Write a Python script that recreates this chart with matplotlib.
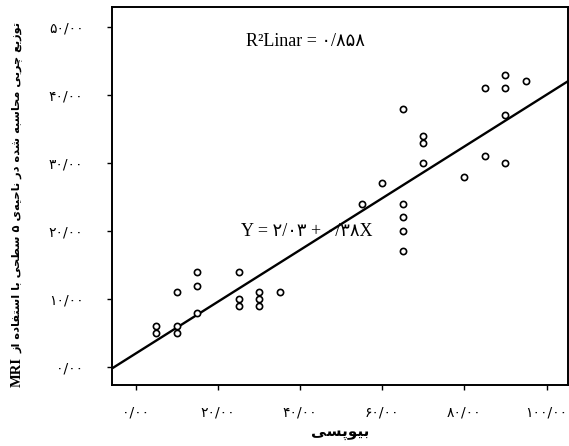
"""Scatter of MRI-estimated fat vs biopsy with a linear fit (Persian labels)."""

import matplotlib
matplotlib.use("Agg")
import matplotlib.pyplot as plt

# ---- data ------------------------------------------------------------------
biopsy = [5, 5, 10, 10, 10, 15, 15, 15, 25, 25, 25, 30, 30, 30, 35,
          55, 60, 65, 65, 65, 65, 65, 70, 70, 70, 80, 85, 85,
          90, 90, 90, 90, 95]
mri_fat = [6, 5, 6, 5, 11, 8, 12, 14, 14, 10, 9, 11, 10, 9, 11,
           24, 27, 38, 24, 22, 20, 17, 34, 33, 30, 28, 31, 41,
           43, 41, 37, 30, 42]

fit_intercept = 2.03
fit_slope = 0.38

x_ticks = [0, 20, 40, 60, 80, 100]
y_ticks = [0, 10, 20, 30, 40, 50]

x_label = "بیوپسی"
y_label = "توزیع چربی محاسبه شده در ناحیه‌ی ۵ سطحی با استفاده از"
y_label_latin = "MRI"
r2_text = "R²Linar = ۰/۸۵۸"
eq_text = "Y = ۲/۰۳ + ۰/۳۸X"

# ---- minimal Arabic shaping (matplotlib does no shaping / bidi) ------------
FORMS = {
    "ا": ("\uFE8D", "\uFE8E", None, None),
    "ب": ("\uFE8F", "\uFE90", "\uFE91", "\uFE92"),
    "پ": ("\uFB56", "\uFB57", "\uFB58", "\uFB59"),
    "ت": ("\uFE95", "\uFE96", "\uFE97", "\uFE98"),
    "چ": ("\uFB7A", "\uFB7B", "\uFB7C", "\uFB7D"),
    "ح": ("\uFEA1", "\uFEA2", "\uFEA3", "\uFEA4"),
    "د": ("\uFEA9", "\uFEAA", None, None),
    "ر": ("\uFEAD", "\uFEAE", None, None),
    "ز": ("\uFEAF", "\uFEB0", None, None),
    "س": ("\uFEB1", "\uFEB2", "\uFEB3", "\uFEB4"),
    "ش": ("\uFEB5", "\uFEB6", "\uFEB7", "\uFEB8"),
    "ط": ("\uFEC1", "\uFEC2", "\uFEC3", "\uFEC4"),
    "ع": ("\uFEC9", "\uFECA", "\uFECB", "\uFECC"),
    "ف": ("\uFED1", "\uFED2", "\uFED3", "\uFED4"),
    "م": ("\uFEE1", "\uFEE2", "\uFEE3", "\uFEE4"),
    "ن": ("\uFEE5", "\uFEE6", "\uFEE7", "\uFEE8"),
    "ه": ("\uFEE9", "\uFEEA", "\uFEEB", "\uFEEC"),
    "و": ("\uFEED", "\uFEEE", None, None),
    "ی": ("\uFEEF", "\uFEF0", "\uFEF3", "\uFEF4"),
}


def _joins_forward(ch):
    return ch in FORMS and FORMS[ch][2] is not None


def shape_rtl(text):
    """Return text in joined presentation forms, in visual (LTR) order."""
    out = []
    for i, ch in enumerate(text):
        if ch == "\u200c":
            continue
        if ch not in FORMS:
            out.append(ch)
            continue
        prev = text[i - 1] if i > 0 else ""
        nxt = text[i + 1] if i + 1 < len(text) else ""
        join_prev = _joins_forward(prev)
        join_next = _joins_forward(ch) and nxt in FORMS
        isol, fina, init, medi = FORMS[ch]
        if join_prev and join_next:
            out.append(medi)
        elif join_prev:
            out.append(fina)
        elif join_next:
            out.append(init)
        else:
            out.append(isol)
    return "".join(reversed(out))


def fa_num(value):
    s = f"{value:.2f}".replace(".", "/")
    return s.translate(str.maketrans("0123456789", "۰۱۲۳۴۵۶۷۸۹"))


# ---- figure ----------------------------------------------------------------
plt.rcParams["font.family"] = ["Liberation Serif", "DejaVu Sans"]

fig = plt.figure(figsize=(5.69, 4.46), dpi=100)
ax = fig.add_axes([0.197, 0.137, 0.801, 0.847])

xlim = (-5.8, 105.2)
ylim = (-2.6, 52.9)

ax.scatter(biopsy, mri_fat, s=20, facecolors="white", edgecolors="black",
           linewidths=1.2, zorder=3)
fit_x = list(xlim)
fit_y = [fit_intercept + fit_slope * v for v in fit_x]
ax.plot(fit_x, fit_y, color="black", linewidth=1.7, zorder=2)

ax.set_xlim(*xlim)
ax.set_ylim(*ylim)
ax.set_xticks(x_ticks)
ax.set_yticks(y_ticks)
ax.set_xticklabels([fa_num(v) for v in x_ticks], family=["DejaVu Sans"], fontsize=10)
ax.set_yticklabels([fa_num(v) for v in y_ticks], family=["DejaVu Sans"], fontsize=10)
ax.tick_params(direction="out", length=3.6, width=1.0)
ax.tick_params(axis="x", pad=11)
ax.tick_params(axis="y", pad=17)

for spine in ax.spines.values():
    spine.set_linewidth(1.4)

ax.set_xlabel(shape_rtl(x_label), family=["DejaVu Sans"], fontweight="bold",
              fontsize=11, labelpad=4)
# y label: Latin part at the bottom, shaped Persian text above it
fig.text(0.03, 0.1996, y_label_latin, rotation=90, family=["Liberation Serif"],
         fontweight="bold", fontsize=10.5, ha="center", va="top")
fig.text(0.03, 0.2085, shape_rtl(y_label), rotation=90, family=["DejaVu Sans"],
         fontweight="bold", fontsize=8.2, ha="center", va="bottom")

ax.text(41.3, 47.8, r2_text, fontsize=13, ha="center", va="center")
ax.text(41.5, 20.0, eq_text, fontsize=13, ha="center", va="center")

fig.savefig("out.png", dpi=100)
